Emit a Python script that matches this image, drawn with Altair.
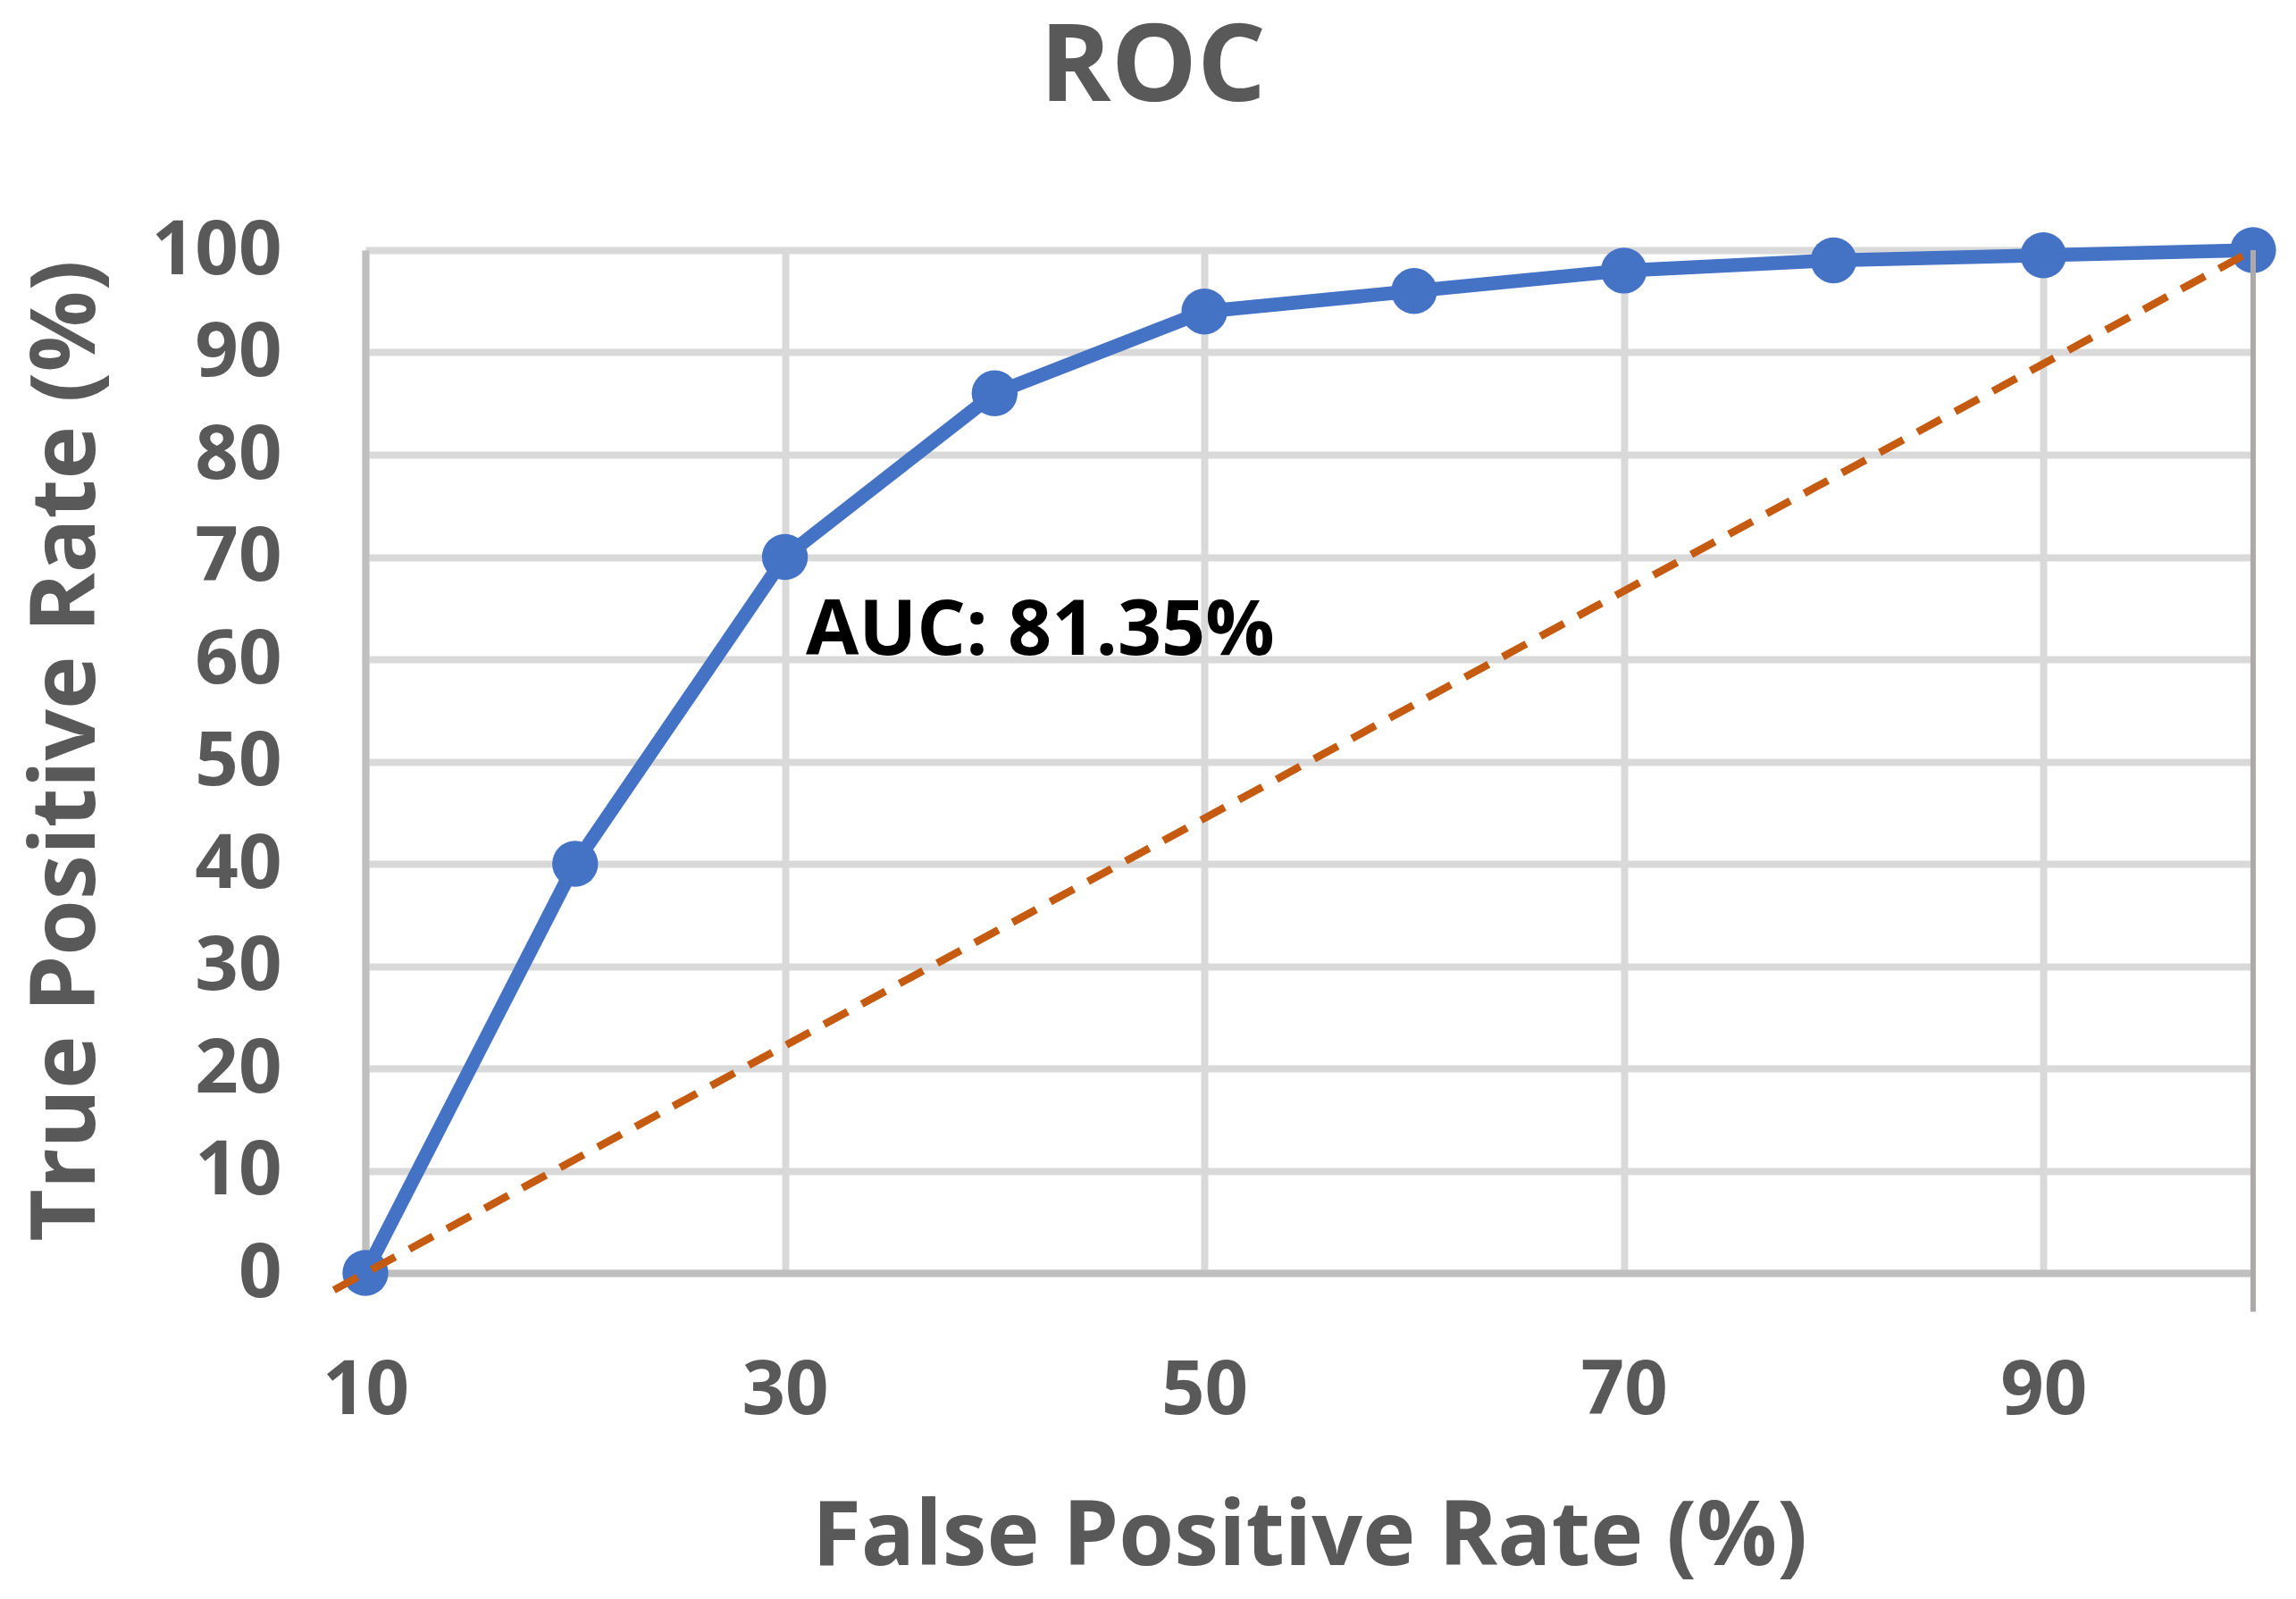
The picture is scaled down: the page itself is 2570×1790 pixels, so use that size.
import altair as alt
import pandas as pd

# ---- data ----
fpr = [10, 20, 30, 40, 50, 60, 70, 80, 90, 100]
tpr = [0, 40, 70, 86, 94, 96, 98, 99, 99.5, 100]

diag_x = [8.5, 100]
diag_y = [-1.67, 100]

x_ticks = [10, 30, 50, 70, 90]
y_ticks = [0, 10, 20, 30, 40, 50, 60, 70, 80, 90, 100]

auc_text = ["AUC: 81.35%"]
auc_x = [31.0]
auc_y = [60.4]

edge_x = [100]
edge_top = [100]
edge_bottom = [-3.8]

# ---- style ----
FONT = "Open Sans"
GRAY = "#595959"
BLUE = "#4472C4"
ORANGE = "#C55A11"
W, H = 2113, 1145

roc_df = pd.DataFrame({"fpr": fpr, "tpr": tpr})
diag_df = pd.DataFrame({"fpr": diag_x, "tpr": diag_y})
auc_df = pd.DataFrame({"fpr": auc_x, "tpr": auc_y, "label": auc_text})
edge_df = pd.DataFrame({"fpr": edge_x, "top": edge_top, "bottom": edge_bottom})

xscale = alt.Scale(domain=[10, 100], nice=False, zero=False)
yscale = alt.Scale(domain=[0, 100], nice=False, zero=False)

xaxis = alt.Axis(
    values=x_ticks, grid=True, gridColor="#D9D9D9", gridWidth=8,
    domainColor="#BFBFBF", domainWidth=8, ticks=False, tickSize=0,
    labelFont=FONT, labelFontSize=85, labelFontWeight="bold", labelColor=GRAY,
    labelBaseline="alphabetic", labelPadding=157, labelFlush=False, labelOverlap=False,
    title="False Positive Rate (%)", titleFont=FONT, titleFontSize=100,
    titleFontWeight="bold", titleColor=GRAY, titleBaseline="alphabetic", titleY=326,
)
yaxis = alt.Axis(
    values=y_ticks, grid=True, gridColor="#D9D9D9", gridWidth=8,
    domainColor="#BFBFBF", domainWidth=8, ticks=False, tickSize=0,
    labelFont=FONT, labelFontSize=85, labelFontWeight="bold", labelColor=GRAY,
    labelPadding=94, labelFlush=False, labelOverlap=False,
    title="True Positive Rate (%)", titleFont=FONT, titleFontSize=101,
    titleFontWeight="bold", titleColor=GRAY, titleBaseline="alphabetic",
    titleX=-304, titleY=560,
)

base = alt.Chart(roc_df)

roc_line = base.mark_line(color=BLUE, strokeWidth=15.5).encode(
    x=alt.X("fpr:Q", scale=xscale, axis=xaxis),
    y=alt.Y("tpr:Q", scale=yscale, axis=yaxis),
)
roc_pts = base.mark_circle(color=BLUE, opacity=1, size=2640).encode(
    x="fpr:Q", y="tpr:Q"
)
edge = alt.Chart(edge_df).mark_rule(color="#AEAAAA", strokeWidth=6).encode(
    x="fpr:Q", y="top:Q", y2="bottom:Q"
)
diag = alt.Chart(diag_df).mark_line(
    color=ORANGE, strokeWidth=8.5, strokeDash=[30, 18]
).encode(x="fpr:Q", y="tpr:Q")
auc = alt.Chart(auc_df).mark_text(
    font=FONT, fontSize=86, fontWeight="bold", color="black",
    align="left", baseline="alphabetic"
).encode(x="fpr:Q", y="tpr:Q", text="label:N")

chart = alt.layer(roc_line, roc_pts, edge, diag, auc).properties(
    width=W, height=H,
    title=alt.TitleParams(
        "ROC", font=FONT, fontSize=121, fontWeight="bold", color=GRAY,
        anchor="middle", baseline="alphabetic", offset=4, dx=-175,
    ),
    autosize=alt.AutoSizeParams(type="none"),
    padding={"left": 401, "top": 272, "right": 40, "bottom": 355},
).configure_view(stroke=None).configure(background="white")

chart.save("out.html", embed_options={"renderer": "svg", "actions": False})
